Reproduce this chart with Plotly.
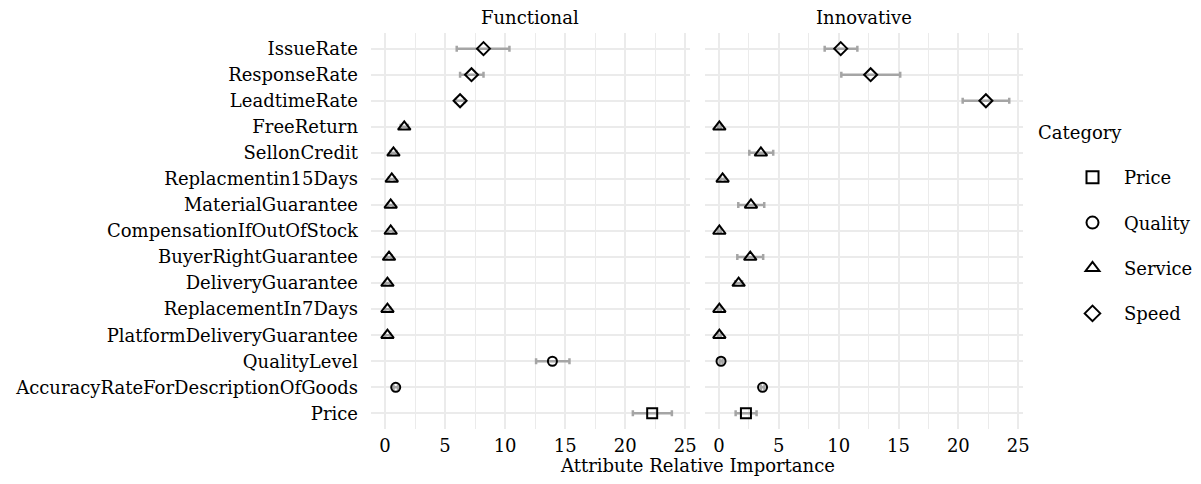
import plotly.graph_objects as go

# The page body adds an 8px margin, so the figure is sized to fit inside the window.
OFF = 8
W, H = 1201 - 2 * OFF, 484 - 2 * OFF

attributes = ["IssueRate", "ResponseRate", "LeadtimeRate", "FreeReturn", "SellonCredit",
              "Replacmentin15Days", "MaterialGuarantee", "CompensationIfOutOfStock",
              "BuyerRightGuarantee", "DeliveryGuarantee", "ReplacementIn7Days",
              "PlatformDeliveryGuarantee", "QualityLevel", "AccuracyRateForDescriptionOfGoods", "Price"]
category = ["Speed", "Speed", "Speed", "Service", "Service", "Service", "Service", "Service",
            "Service", "Service", "Service", "Service", "Quality", "Quality", "Price"]

func_val = [8.2, 7.2, 6.25, 1.6, 0.7, 0.56, 0.47, 0.47, 0.33, 0.2, 0.2, 0.2, 13.94, 0.89, 22.25]
func_lo = [5.97, 6.25, 5.9, 1.3, 0.45, 0.33, 0.25, 0.25, 0.12, 0.0, 0.0, 0.0, 12.58, 0.7, 20.64]
func_hi = [10.36, 8.2, 6.6, 1.9, 0.95, 0.8, 0.7, 0.7, 0.55, 0.42, 0.42, 0.42, 15.36, 1.08, 23.89]

inno_val = [10.17, 12.67, 22.3, 0.03, 3.5, 0.3, 2.67, 0.03, 2.61, 1.64, 0.03, 0.03, 0.17, 3.64, 2.25]
inno_lo = [8.83, 10.22, 20.36, -0.1, 2.53, 0.1, 1.61, -0.1, 1.53, 1.35, -0.1, -0.1, 0.05, 3.5, 1.39]
inno_hi = [11.56, 15.14, 24.25, 0.15, 4.53, 0.5, 3.78, 0.15, 3.69, 1.93, 0.15, 0.15, 0.3, 3.8, 3.14]

panels = ["Functional", "Innovative"]
legend_order = ["Price", "Quality", "Service", "Speed"]
symbols = {"Price": "square-open", "Quality": "circle-open",
           "Service": "triangle-up-open", "Speed": "diamond-open"}
sizes = {"Price": 10, "Quality": 9, "Service": 11, "Speed": 10}

FONT = "DejaVu Serif"
FS = 18


def px(x):
    return (x - OFF) / W


def py(y):
    return 1 - (y - OFF) / H


fig = go.Figure()

data = [(func_val, func_lo, func_hi, "x", "y"), (inno_val, inno_lo, inno_hi, "x2", "y2")]
for pi, (val, lo, hi, xa, ya) in enumerate(data):
    fig.add_trace(go.Scatter(
        x=val, y=attributes, mode="markers", xaxis=xa, yaxis=ya,
        marker=dict(size=1, opacity=0),
        error_x=dict(type="data", array=[h - v for h, v in zip(hi, val)],
                     arrayminus=[v - l for v, l in zip(val, lo)],
                     color="#A5A5A5", thickness=2.5, width=3),
        showlegend=False, hoverinfo="skip"))
    for cat in legend_order:
        idx = [i for i, c in enumerate(category) if c == cat]
        fig.add_trace(go.Scatter(
            x=[val[i] for i in idx], y=[attributes[i] for i in idx],
            mode="markers", xaxis=xa, yaxis=ya, name=cat,
            legendgroup=cat, showlegend=(pi == 0),
            marker=dict(symbol=symbols[cat], size=sizes[cat], color="black",
                        line=dict(width=2, color="black"))))

y_dom = [py(429), py(33)]
xr = [-1.17, 25.4]
axis_common = dict(range=xr, tickvals=[0, 5, 10, 15, 20, 25], showgrid=True,
                   gridcolor="#EBEBEB", gridwidth=2, zeroline=False, showline=False,
                   ticks="", tickfont=dict(family=FONT, size=FS, color="black"),
                   ticklabelstandoff=4, automargin=False,
                   minor=dict(tickvals=[2.5, 7.5, 12.5, 17.5, 22.5], showgrid=True,
                              gridcolor="#EBEBEB", gridwidth=1))
yaxis_common = dict(type="category", categoryorder="array", categoryarray=attributes,
                    range=[14.6, -0.6], domain=y_dom, showgrid=True, gridcolor="#EBEBEB",
                    gridwidth=2, zeroline=False, showline=False, ticks="", automargin=False)

fig.update_layout(
    width=W, height=H, margin=dict(l=0, r=0, t=0, b=0, autoexpand=False),
    plot_bgcolor="white", paper_bgcolor="white",
    font=dict(family=FONT, size=FS, color="black"),
    xaxis=dict(domain=[px(371), px(690)], anchor="y", **axis_common),
    xaxis2=dict(domain=[px(705), px(1023)], anchor="y2", **axis_common),
    yaxis=dict(anchor="x", tickfont=dict(family=FONT, size=FS, color="black"),
               ticklabelstandoff=12, **yaxis_common),
    yaxis2=dict(anchor="x2", matches="y", showticklabels=False, **yaxis_common),
    legend=dict(x=px(1061), y=py(159), xanchor="left", yanchor="top",
                font=dict(family=FONT, size=FS), traceorder="grouped",
                tracegroupgap=19, itemsizing="constant", itemwidth=53,
                bgcolor="rgba(0,0,0,0)"),
    annotations=[
        dict(text="Functional", x=px(530), y=py(17), xref="paper", yref="paper",
             xanchor="center", yanchor="middle", showarrow=False),
        dict(text="Innovative", x=px(864), y=py(17), xref="paper", yref="paper",
             xanchor="center", yanchor="middle", showarrow=False),
        dict(text="Attribute Relative Importance", x=px(697), y=py(465.5),
             xref="paper", yref="paper", xanchor="center", yanchor="middle",
             showarrow=False),
        dict(text="Category", x=px(1036), y=py(133), xref="paper", yref="paper",
             xanchor="left", yanchor="middle", showarrow=False),
    ],
)

fig.write_html("out.html")
